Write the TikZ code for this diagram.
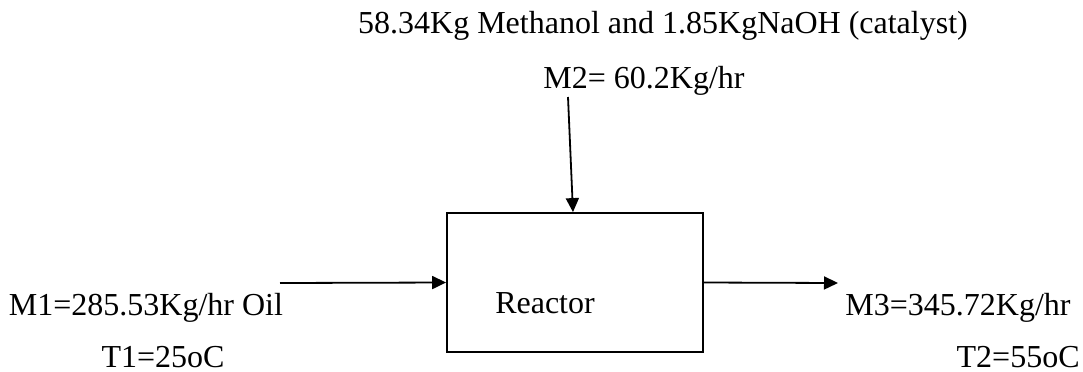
\documentclass[tikz,border=0pt]{standalone}
\usepackage{fontspec}
\setmainfont{Liberation Serif}
\usetikzlibrary{positioning,arrows.meta}

\begin{document}
\begin{tikzpicture}[
  x=0.5pt, y=-0.5pt,
  lbl/.style={inner sep=0pt, font=\fontsize{16}{19}\selectfont},
  unit/.style={draw, line width=0.9pt, minimum width=128pt, minimum height=69.5pt, inner sep=0pt},
  arr/.style={-{Triangle[length=7pt, width=6.5pt]}, line width=0.9pt},
]
\useasboundingbox (0,0) rectangle (1083,371);
\node[unit] (reactor) at (575,282.5) {};
\node[lbl, anchor=base] (rlabel) at (545,313) {Reactor};
\node[lbl, anchor=base] (feedtxt) at (663,33) {58.34Kg Methanol and 1.85KgNaOH (catalyst)};
\node[lbl, anchor=base] (m2) at (644,88) {M2= 60.2Kg/hr};
\node[lbl, anchor=base] (m1) at (146,315) {M1=285.53Kg/hr Oil};
\node[lbl, anchor=base] (t1) at (163,367) {T1=25oC};
\node[lbl, anchor=base] (m3) at (958,315) {M3=345.72Kg/hr};
\node[lbl, anchor=base east] (t2) at (1080,367) {T2=55oC};
\coordinate (inlet) at (280,283);
\coordinate (outlet) at (838,283);
\coordinate (feed) at (568,97);
\draw[arr] (inlet) -- (reactor.west);
\draw[arr] (reactor.east) -- (outlet);
\draw[arr] (feed) -- ([xshift=-1pt]reactor.north);
\end{tikzpicture}
\end{document}
